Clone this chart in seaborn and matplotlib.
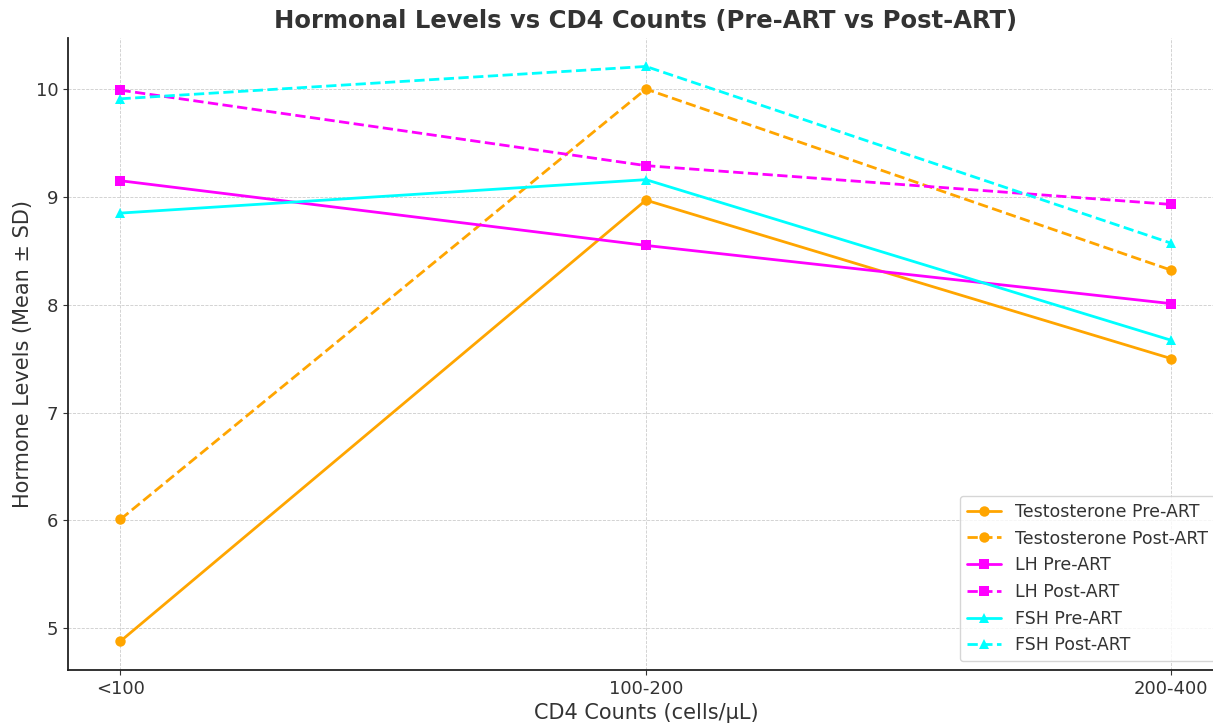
import pandas as pd
import seaborn as sns
import matplotlib.pyplot as plt


# Data
cd4_groups = ["<100", "100-200", "200-400"]

testosterone_pre = [4.88, 8.97, 7.50]
testosterone_post = [6.01, 10.00, 8.32]
lh_pre = [9.15, 8.55, 8.01]
lh_post = [9.99, 9.29, 8.93]
fsh_pre = [8.85, 9.16, 7.67]
fsh_post = [9.91, 10.21, 8.57]

series = [
    ("Testosterone Pre-ART", testosterone_pre, "orange", "-", "o"),
    ("Testosterone Post-ART", testosterone_post, "orange", "--", "o"),
    ("LH Pre-ART", lh_pre, "magenta", "-", "s"),
    ("LH Post-ART", lh_post, "magenta", "--", "s"),
    ("FSH Pre-ART", fsh_pre, "cyan", "-", "^"),
    ("FSH Post-ART", fsh_post, "cyan", "--", "^"),
]


# -------------------------------
# Style
# -------------------------------
sns.set_style("ticks")
plt.rcParams["font.family"] = ["DejaVu Sans"]
plt.rcParams["text.color"] = "#333333"
plt.rcParams["axes.labelcolor"] = "#333333"
plt.rcParams["xtick.color"] = "#333333"
plt.rcParams["ytick.color"] = "#333333"
plt.rcParams["axes.edgecolor"] = "#222222"


fig = plt.figure(figsize=(12.13, 7.25), dpi=100)
ax = fig.add_axes([0.056, 0.076, 0.953, 0.872])

for label, values, color, ls, marker in series:
    df = pd.DataFrame({"CD4": cd4_groups, "Level": values})
    sns.lineplot(
        data=df,
        x="CD4",
        y="Level",
        color=color,
        linestyle=ls,
        marker=marker,
        markersize=7.5,
        markeredgewidth=0,
        linewidth=2,
        label=label,
        ax=ax
    )

ax.set_xlim(-0.1, 2.1)
ax.grid(True, linestyle="--", linewidth=0.6, color="#cccccc")
ax.set_axisbelow(True)

for side in ["top", "right"]:
    ax.spines[side].set_visible(False)
ax.spines["left"].set_linewidth(1.3)
ax.spines["bottom"].set_linewidth(1.3)

ax.tick_params(labelsize=13)
ax.set_title("Hormonal Levels vs CD4 Counts (Pre-ART vs Post-ART)",
             fontsize=17.5, fontweight="bold", pad=7)
ax.set_xlabel("CD4 Counts (cells/μL)", fontsize=15)
ax.set_ylabel("Hormone Levels (Mean ± SD)", fontsize=15, labelpad=2)

ax.legend(loc="lower right", fontsize=12.5, frameon=True)

plt.savefig("out.png", dpi=100)
